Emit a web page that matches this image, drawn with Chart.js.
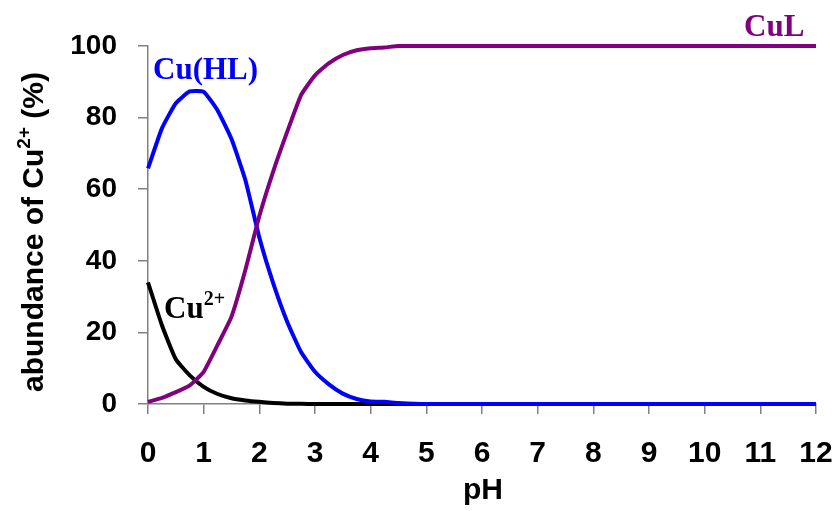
<!DOCTYPE html>
<html lang="en">
<head>
    <meta charset="UTF-8">
    <title>Cu species distribution</title>
    <script src="https://cdn.jsdelivr.net/npm/chart.js@4.4.1/dist/chart.umd.min.js"></script>
    <style>
        html, body { margin: 0; padding: 0; background: #fff; }
        #wrap { width: 838px; height: 511px; }
    </style>
</head>
<body>
<div id="wrap"><canvas id="myChart" width="838" height="511"></canvas></div>

<script>
    // pH values and species abundance (%)
    var ph    = [0, 0.25, 0.5, 0.75, 1, 1.25, 1.5, 1.75, 2, 2.25, 2.5, 2.75, 3, 3.25, 3.5, 3.75, 4, 4.25, 4.5, 5, 6, 7, 8, 9, 10, 11, 12];
    var cuFree = [34, 22, 12.5, 8, 4.8, 2.8, 1.6, 1, 0.6, 0.3, 0.1, 0.05, 0, 0, 0, 0, 0, 0, 0, 0, 0, 0, 0, 0, 0, 0, 0];
    var cuHL  = [65.8, 77, 84, 87.3, 87.2, 82, 74, 62.5, 46.5, 33.7, 23, 14.5, 9, 5.5, 2.9, 1.4, 0.7, 0.6, 0.3, 0, 0, 0, 0, 0, 0, 0, 0];
    var cuL   = [0.6, 1.7, 3.3, 5.2, 9, 16.5, 24.4, 37.5, 52.5, 65, 76, 86.3, 91.8, 95.2, 97.5, 98.8, 99.4, 99.6, 100, 100, 100, 100, 100, 100, 100, 100, 100];
    var yTicks = [0, 20, 40, 60, 80, 100];

    function pts(arr) {
        return ph.map(function (x, i) { return { x: x, y: arr[i] }; });
    }

    var sans = "'Liberation Sans', Arial, sans-serif";
    var serif = "'Liberation Serif', 'Times New Roman', serif";

    var textPlugin = {
        id: 'texts',
        afterDraw: function (chart) {
            var ctx = chart.ctx;
            ctx.save();
            ctx.textBaseline = 'alphabetic';
            ctx.textAlign = 'left';

            // curve labels
            ctx.font = 'bold 31px ' + serif;
            ctx.fillStyle = '#0000ff';
            ctx.fillText('Cu(HL)', 153, 79);
            ctx.fillStyle = '#800080';
            ctx.fillText('CuL', 744, 36);
            ctx.fillStyle = '#000';
            ctx.fillText('Cu', 164, 318);
            var w = ctx.measureText('Cu').width;
            ctx.font = 'bold 20px ' + serif;
            ctx.fillText('2+', 164 + w, 305);

            // x title
            ctx.font = 'bold 30px ' + sans;
            ctx.textAlign = 'center';
            ctx.fillText('pH', 483, 499);

            // y title with superscript
            ctx.translate(43, 392);
            ctx.rotate(-Math.PI / 2);
            ctx.textAlign = 'left';
            ctx.font = 'bold 30px ' + sans;
            var s1 = 'abundance of Cu';
            ctx.fillText(s1, 0, 0);
            var x = ctx.measureText(s1).width;
            ctx.font = 'bold 19px ' + sans;
            ctx.fillText('2+', x, -13);
            x += ctx.measureText('2+').width;
            ctx.font = 'bold 30px ' + sans;
            ctx.fillText(' (%)', x, 0);
            ctx.restore();
        }
    };

    var ctx = document.getElementById('myChart').getContext('2d');
    new Chart(ctx, {
        type: 'line',
        data: {
            datasets: [
                { label: 'CuL', data: pts(cuL), borderColor: '#800080' },
                { label: 'Cu(HL)', data: pts(cuHL), borderColor: '#0000ff' },
                { label: 'Cu2+', data: pts(cuFree), borderColor: '#000000' }
            ]
        },
        options: {
            responsive: false,
            animation: false,
            layout: { padding: { left: 0, top: 46, right: 22, bottom: 0 } },
            elements: {
                line: { borderWidth: 4, tension: 0.15, fill: false },
                point: { radius: 0 }
            },
            datasets: { line: { clip: false } },
            plugins: {
                legend: { display: false },
                tooltip: { enabled: false }
            },
            scales: {
                x: {
                    type: 'linear',
                    min: 0,
                    max: 12,
                    afterFit: function (s) {
                        s.height = 107;
                        s.paddingLeft = 0;
                        s.paddingRight = 0;
                    },
                    ticks: {
                        stepSize: 1,
                        color: '#000',
                        padding: 22,
                        maxRotation: 0,
                        font: { family: sans, size: 30, weight: 'bold' }
                    },
                    grid: { drawOnChartArea: false, tickLength: 10, color: '#808080', lineWidth: 1.5 },
                    border: { color: '#808080', width: 1.5 }
                },
                y: {
                    min: 0,
                    max: 100,
                    afterFit: function (s) {
                        s.width = 148;
                        s.paddingTop = 0;
                        s.paddingBottom = 0;
                    },
                    afterBuildTicks: function (s) {
                        s.ticks = yTicks.map(function (v) { return { value: v }; });
                    },
                    ticks: {
                        color: '#000',
                        padding: 21,
                        font: { family: sans, size: 28, weight: 'bold' }
                    },
                    grid: { drawOnChartArea: false, tickLength: 10, color: '#808080', lineWidth: 1.5 },
                    border: { color: '#808080', width: 1.5 }
                }
            }
        },
        plugins: [textPlugin]
    });
</script>
</body>
</html>
